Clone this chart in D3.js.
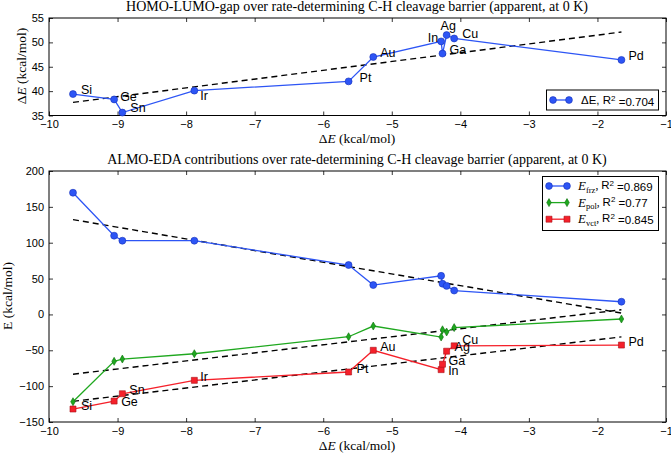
<!DOCTYPE html>
<html>
<head>
<meta charset="utf-8">
<script src="https://cdn.jsdelivr.net/npm/d3@7"></script>
<style>
  body { margin: 0; background: #fff; }
  svg { display: block; }
  .tick text { font-family: "Liberation Sans", Arial, sans-serif; font-size: 11px; fill: #000; }
  .title, .axlabel { font-family: "Liberation Serif", "DejaVu Serif", serif; fill: #000; }
  .lab { font-family: "Liberation Sans", Arial, sans-serif; font-size: 12.5px; fill: #000; }
  .leg { font-family: "Liberation Sans", Arial, sans-serif; font-size: 11.5px; fill: #000; }
</style>
</head>
<body>
<div id="chart"></div>
<script>
const metals = ['Si', 'Ge', 'Sn', 'Ir', 'Pt', 'Au', 'In', 'Ga', 'Ag', 'Cu', 'Pd']
const barrier = [-9.65, -9.05, -8.93, -7.88, -5.63, -5.27, -4.28, -4.26, -4.20, -4.09, -1.65]
const gap = [39.4, 38.3, 35.6, 40.1, 42.0, 47.0, 50.2, 47.7, 51.5, 50.8, 46.4]
const eFrz = [169.7, 109.8, 102.8, 102.8, 68.9, 41.0, 53.8, 42.8, 39.8, 33.3, 17.7]
const ePol = [-121.7, -65.4, -62.2, -54.8, -31.1, -16.2, -31.5, -21.4, -24.5, -18.4, -6.4]
const eVct = [-131.9, -120.8, -110.6, -91.9, -80.3, -50.0, -77.0, -69.4, -51.3, -43.8, -42.7]
const xTicks = [-10, -9, -8, -7, -6, -5, -4, -3, -2, -1]
const gapTicks = [35, 40, 45, 50, 55]
const edaTicks = [-150, -100, -50, 0, 50, 100, 150, 200]

// label offsets in px (dx, dy, anchor)
const gapLabelOff = [[8, -5], [6, -3], [8, -5], [6, 5], [11, -4], [7, -5], [-3, -4, 'end'], [7, -4], [-6, -10], [8, -5], [7, -4]]
const vctLabelOff = [[8, -4], [7, 0], [7, -4], [6, -4], [8, -4], [7, -4], [7, 1], [6, -4], [8, -5], [8, -6], [7, -4]]

const WIDTH = 671, HEIGHT = 453
const BLUE = '#2d55f5', BLUE_DARK = '#1530b8'
const GREEN = '#1fa81f', GREEN_DARK = '#0b6e0b'
const RED = '#f5202a', RED_DARK = '#a8101a'

const svg = d3.select('#chart').append('svg')
    .attr('width', WIDTH).attr('height', HEIGHT)

const x = d3.scaleLinear().domain([-10, -1]).range([49, 666])
const yTop = d3.scaleLinear().domain([35, 55]).range([115.5, 18])
const yBot = d3.scaleLinear().domain([-150, 200]).range([422, 171])

function fit(vals) {
    const mx = d3.mean(barrier), my = d3.mean(vals)
    let sxy = 0, sxx = 0
    barrier.forEach((b, i) => { sxy += (b - mx) * (vals[i] - my); sxx += (b - mx) ** 2 })
    const k = sxy / sxx
    const x0 = d3.min(barrier), x1 = d3.max(barrier)
    return [[x0, my + k * (x0 - mx)], [x1, my + k * (x1 - mx)]]
}

function frame(y, ticks) {
    const [x0, x1] = x.range()
    const [y1, y0] = y.range()
    const g = svg.append('g')
    g.append('g').attr('transform', `translate(0,${y1})`)
        .call(d3.axisBottom(x).tickValues(xTicks).tickSize(-4).tickPadding(5))
    g.append('g').attr('transform', `translate(0,${y0})`)
        .call(d3.axisTop(x).tickValues(xTicks).tickSize(-4).tickFormat(''))
    g.append('g').attr('transform', `translate(${x0},0)`)
        .call(d3.axisLeft(y).tickValues(ticks).tickSize(-4).tickPadding(5))
    g.append('g').attr('transform', `translate(${x1},0)`)
        .call(d3.axisRight(y).tickValues(ticks).tickSize(-4).tickFormat(''))
    g.selectAll('.domain').remove()
    g.selectAll('.tick line').attr('stroke', '#000').attr('stroke-width', 0.8)
    g.append('rect').attr('x', x0).attr('y', y0).attr('width', x1 - x0).attr('height', y1 - y0)
        .attr('fill', 'none').attr('stroke', '#000').attr('stroke-width', 1)
}

function series(y, vals, color, dark, shape) {
    const pts = barrier.map((b, i) => [b, vals[i]])
    const line = d3.line().x(d => x(d[0])).y(d => y(d[1]))
    svg.append('path').datum(pts).attr('d', line)
        .attr('fill', 'none').attr('stroke', color).attr('stroke-width', 1.3)
    const sym = shape === 'circle' ? d3.symbolCircle : shape === 'square' ? d3.symbolSquare : null
    const g = svg.append('g')
    pts.forEach(p => {
        const m = g.append('path').attr('transform', `translate(${x(p[0])},${y(p[1])})`)
            .attr('fill', color).attr('stroke', dark).attr('stroke-width', 0.6)
        if (shape === 'diamond') m.attr('d', 'M0,-4L2.3,0L0,4L-2.3,0Z')
        else m.attr('d', d3.symbol().type(sym).size(shape === 'circle' ? 38 : 36)())
    })
}

function fitLine(y, vals) {
    const f = fit(vals)
    svg.append('line')
        .attr('x1', x(f[0][0])).attr('y1', y(f[0][1]))
        .attr('x2', x(f[1][0])).attr('y2', y(f[1][1]))
        .attr('stroke', '#000').attr('stroke-width', 1.4).attr('stroke-dasharray', '6,4')
}

function labels(y, vals, off) {
    metals.forEach((m, i) => {
        svg.append('text').attr('class', 'lab')
            .attr('x', x(barrier[i]) + off[i][0])
            .attr('y', y(vals[i]) + off[i][1])
            .attr('dy', '0.36em')
            .attr('text-anchor', off[i][2] || 'start')
            .text(m)
    })
}

function xLabel(yPos) {
    const t = svg.append('text').attr('class', 'axlabel').attr('x', 357).attr('y', yPos)
        .attr('text-anchor', 'middle').attr('font-size', 13.5)
    t.append('tspan').text('Δ')
    t.append('tspan').attr('font-style', 'italic').text('E')
    t.append('tspan').text(' (kcal/mol)')
}

// ---- top panel
frame(yTop, gapTicks)
svg.append('text').attr('class', 'title').attr('x', 357).attr('y', 11)
    .attr('text-anchor', 'middle').attr('font-size', 14)
    .text('HOMO-LUMO-gap over rate-determining C-H cleavage barrier (apparent, at 0 K)')
xLabel(143)
const yl1 = svg.append('text').attr('class', 'axlabel').attr('font-size', 13.5)
    .attr('transform', 'translate(26,66) rotate(-90)').attr('text-anchor', 'middle')
yl1.append('tspan').text('Δ')
yl1.append('tspan').attr('font-style', 'italic').text('E')
yl1.append('tspan').text(' (kcal/mol)')

fitLine(yTop, gap)
series(yTop, gap, BLUE, BLUE_DARK, 'circle')
labels(yTop, gap, gapLabelOff)

// legend top
svg.append('rect').attr('x', 546.5).attr('y', 90).attr('width', 112).attr('height', 20)
    .attr('fill', '#fff').attr('stroke', '#000').attr('stroke-width', 1)
svg.append('line').attr('x1', 553).attr('x2', 569).attr('y1', 100).attr('y2', 100)
    .attr('stroke', BLUE).attr('stroke-width', 1.3)
;[553, 569].forEach(px => svg.append('circle').attr('cx', px).attr('cy', 100).attr('r', 3.4)
    .attr('fill', BLUE).attr('stroke', BLUE_DARK).attr('stroke-width', 0.6))
const lt = svg.append('text').attr('class', 'leg').attr('x', 581).attr('y', 100).attr('dy', '0.36em')
lt.append('tspan').text('ΔE, R')
lt.append('tspan').attr('font-size', 8).attr('dy', '-0.45em').text('2')
lt.append('tspan').attr('dy', '0.45em').text(' =0.704')

// ---- bottom panel
frame(yBot, edaTicks)
svg.append('text').attr('class', 'title').attr('x', 357).attr('y', 164)
    .attr('text-anchor', 'middle').attr('font-size', 14)
    .text('ALMO-EDA contributions over rate-determining C-H cleavage barrier (apparent, at 0 K)')
xLabel(450)
svg.append('text').attr('class', 'axlabel').attr('font-size', 13.5)
    .attr('transform', 'translate(12,296) rotate(-90)').attr('text-anchor', 'middle')
    .text('E (kcal/mol)')

fitLine(yBot, eFrz)
fitLine(yBot, ePol)
fitLine(yBot, eVct)
series(yBot, eFrz, BLUE, BLUE_DARK, 'circle')
series(yBot, ePol, GREEN, GREEN_DARK, 'diamond')
series(yBot, eVct, RED, RED_DARK, 'square')
labels(yBot, eVct, vctLabelOff)

// legend bottom
const legItems = [
    {sub: 'frz', r2: '0.869', color: BLUE, dark: BLUE_DARK, shape: 'circle'},
    {sub: 'pol', r2: '0.77', color: GREEN, dark: GREEN_DARK, shape: 'diamond'},
    {sub: 'vct', r2: '0.845', color: RED, dark: RED_DARK, shape: 'square'}
]
svg.append('rect').attr('x', 542.5).attr('y', 176.5).attr('width', 116).attr('height', 54)
    .attr('fill', '#fff').attr('stroke', '#000').attr('stroke-width', 1)
legItems.forEach((it, i) => {
    const cy = 186 + i * 16.6
    svg.append('line').attr('x1', 549).attr('x2', 567).attr('y1', cy).attr('y2', cy)
        .attr('stroke', it.color).attr('stroke-width', 1.3)
    ;[549, 567].forEach(px => {
        const m = svg.append('path').attr('transform', `translate(${px},${cy})`)
            .attr('fill', it.color).attr('stroke', it.dark).attr('stroke-width', 0.6)
        if (it.shape === 'diamond') m.attr('d', 'M0,-4L2.3,0L0,4L-2.3,0Z')
        else m.attr('d', d3.symbol().type(it.shape === 'circle' ? d3.symbolCircle : d3.symbolSquare).size(36)())
    })
    const t = svg.append('text').attr('class', 'leg').attr('x', 578).attr('y', cy).attr('dy', '0.36em')
    t.append('tspan').attr('font-family', 'Liberation Serif, serif').attr('font-style', 'italic')
        .attr('font-size', 13).text('E')
    t.append('tspan').attr('font-family', 'Liberation Serif, serif').attr('font-size', 8.5)
        .attr('dy', '0.3em').text(it.sub)
    t.append('tspan').attr('font-family', 'Liberation Serif, serif').attr('dy', '-0.3em').text(', ')
    t.append('tspan').text('R')
    t.append('tspan').attr('font-size', 8).attr('dy', '-0.45em').text('2')
    t.append('tspan').attr('dy', '0.45em').text(' =' + it.r2)
})
</script>
</body>
</html>
